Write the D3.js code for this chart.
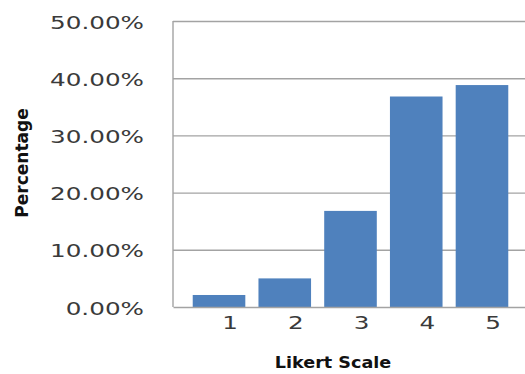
<!DOCTYPE html>
<html>
<head>
<meta charset="utf-8">
<script src="https://cdn.jsdelivr.net/npm/d3@7"></script>
<style>
  html, body { margin: 0; padding: 0; background: #fff; }
  svg { display: block; }
</style>
</head>
<body>
<svg id="chart" width="525" height="374"></svg>
<script>
// Likert response shares (fraction of respondents)
const categories = ["1", "2", "3", "4", "5"];
const shares = [0.021, 0.050, 0.168, 0.368, 0.388];
const yTicks = [0, 0.1, 0.2, 0.3, 0.4, 0.5];

const svg = d3.select("#chart");
const W = 525;
const plot = { left: 173, right: 528, top: 21, bottom: 307 };
const fontFamily = "'DejaVu Sans', sans-serif";
const tickFont = "18px";

const x = d3.scaleBand()
  .domain(categories)
  .range([plot.left, plot.right])
  .paddingInner(0.2)
  .paddingOuter(0.3);

const y = d3.scaleLinear()
  .domain([0, 0.5])
  .range([plot.bottom, plot.top]);

const fmt = d => (d * 100).toFixed(2) + "%";

// widen tick labels so the widest one spans 94px
const probe = svg.append("text")
  .style("font-family", fontFamily).style("font-size", tickFont)
  .text(fmt(0.5));
const stretch = 94 / probe.node().getComputedTextLength();
probe.remove();

// horizontal gridlines
const grid = svg.append("g")
  .attr("transform", `translate(${plot.left},0)`)
  .call(d3.axisLeft(y).tickValues(yTicks.slice(1)).tickSize(-(W - plot.left)).tickFormat(""));
grid.select(".domain").remove();
grid.selectAll(".tick line").attr("stroke", "#a3a3a3").attr("stroke-width", 1.4);

// left axis line
svg.append("line")
  .attr("x1", plot.left).attr("x2", plot.left)
  .attr("y1", y(0.5)).attr("y2", y(0))
  .attr("stroke", "#a3a3a3").attr("stroke-width", 1.4);

// bars
svg.append("g")
  .selectAll("rect")
  .data(shares)
  .join("rect")
  .attr("x", (d, i) => x(categories[i]))
  .attr("width", x.bandwidth())
  .attr("y", d => y(d))
  .attr("height", d => y(0) - y(d))
  .attr("fill", "#4f81bd");

// y tick labels
const yAxis = svg.append("g")
  .attr("transform", "translate(144,0)")
  .call(d3.axisLeft(y).tickValues(yTicks).tickSize(0).tickPadding(0).tickFormat(fmt));
yAxis.select(".domain").remove();
yAxis.selectAll("text")
  .attr("x", 0)
  .attr("dy", "0.39em")
  .attr("transform", `scale(${stretch},1)`)
  .attr("fill", "#3a3a3a")
  .style("font-family", fontFamily)
  .style("font-size", tickFont);

// x axis
const xAxis = svg.append("g")
  .attr("transform", `translate(0,${plot.bottom})`)
  .call(d3.axisBottom(x).tickSize(0).tickSizeOuter(0).tickPadding(0));
xAxis.select(".domain").attr("stroke", "#a3a3a3").attr("stroke-width", 1.4);
xAxis.selectAll(".tick text")
  .attr("y", 0)
  .attr("dy", 0)
  .attr("transform", `translate(11,22) scale(${stretch},1)`)
  .attr("fill", "#3a3a3a")
  .style("font-family", fontFamily)
  .style("font-size", tickFont);

// axis titles
svg.append("text")
  .attr("transform", "translate(28,163) rotate(-90)")
  .attr("text-anchor", "middle")
  .style("font-family", fontFamily)
  .style("font-weight", "bold")
  .style("font-size", "17px")
  .attr("fill", "#111")
  .text("Percentage");

svg.append("text")
  .attr("transform", "translate(333,368) scale(1.1,1)")
  .attr("text-anchor", "middle")
  .style("font-family", fontFamily)
  .style("font-weight", "bold")
  .style("font-size", "16px")
  .attr("fill", "#111")
  .text("Likert Scale");
</script>
</body>
</html>
